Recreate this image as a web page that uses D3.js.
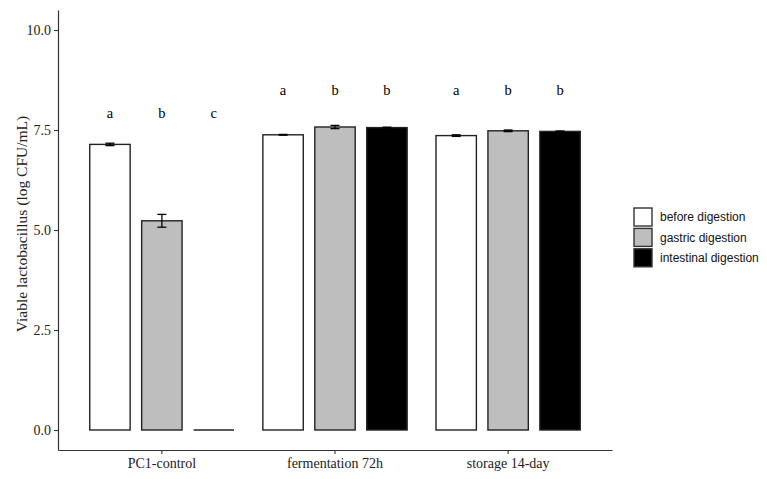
<!DOCTYPE html>
<html>
<head>
<meta charset="utf-8">
<script src="https://cdn.jsdelivr.net/npm/d3@7"></script>
<style>
  body { margin: 0; background: #fff; }
</style>
</head>
<body>
<div id="chart"></div>
<script>
// data
let groups = ["PC1-control", "fermentation 72h", "storage 14-day"]
let stages = ["before digestion", "gastric digestion", "intestinal digestion"]
let beforeMeans = [7.14, 7.38, 7.36]
let gastricMeans = [5.23, 7.575, 7.48]
let intestinalMeans = [0, 7.56, 7.465]
let beforeErr = [0.03, 0.01, 0.02]
let gastricErr = [0.16, 0.04, 0.02]
let intestinalErr = [0, 0.01, 0.01]
let letters = [["a", "b", "c"], ["a", "b", "b"], ["a", "b", "b"]]
let letterY = [7.88, 8.45, 8.45]
let yTicks = [0, 2.5, 5, 7.5, 10]
let fills = ["#ffffff", "#bebebe", "#000000"]

let svgWidth = 767
let svgHeight = 479
let margin = {left: 58, right: 155, top: 10, bottom: 29}
let width = svgWidth - margin.left - margin.right
let height = svgHeight - margin.top - margin.bottom

let svg = d3.select('#chart')
    .append('svg')
    .attr('width', svgWidth)
    .attr('height', svgHeight)

let g = svg.append('g')
    .attr('transform', `translate(${margin.left},${margin.top})`)

// build rows
let means = [beforeMeans, gastricMeans, intestinalMeans]
let errs = [beforeErr, gastricErr, intestinalErr]
let rows = []
groups.forEach((grp, i) => {
    stages.forEach((st, j) => {
        rows.push({group: grp, stage: st, j: j, mean: means[j][i], err: errs[j][i]})
    })
})

// scales
let x0 = d3.scaleBand()
    .domain(groups)
    .range([0, width])
    .paddingInner(0)
    .paddingOuter(0.1)
let step = x0.step()
let x1 = d3.scaleBand()
    .domain(stages)
    .range([-0.45 * step, 0.45 * step])
let barW = step * 0.7 / 3
let y = d3.scaleLinear()
    .domain([-0.5, 10.5])
    .range([height, 0])

let cx = d => x0(d.group) + x0.bandwidth() / 2 + x1(d.stage) + x1.bandwidth() / 2

// bars
g.selectAll('.bar')
    .data(rows)
    .enter()
    .append('rect')
    .attr('class', 'bar')
    .attr('x', d => cx(d) - barW / 2)
    .attr('width', barW)
    .attr('y', d => y(Math.max(d.mean, 0)))
    .attr('height', d => y(0) - y(Math.max(d.mean, 0)))
    .attr('fill', d => fills[d.j])
    .attr('stroke', '#222')
    .attr('stroke-width', 1.4)

// zero-height bar shows as a line
g.selectAll('.zero')
    .data(rows.filter(d => d.mean == 0))
    .enter()
    .append('line')
    .attr('x1', d => cx(d) - barW / 2)
    .attr('x2', d => cx(d) + barW / 2)
    .attr('y1', y(0))
    .attr('y2', y(0))
    .attr('stroke', '#222')
    .attr('stroke-width', 1.4)

// error bars
let capW = 9
let eb = g.selectAll('.eb')
    .data(rows.filter(d => d.err > 0))
    .enter()
    .append('g')
    .attr('class', 'eb')
    .attr('stroke', '#000')
    .attr('stroke-width', 1.3)
eb.append('line')
    .attr('x1', d => cx(d)).attr('x2', d => cx(d))
    .attr('y1', d => y(d.mean - d.err)).attr('y2', d => y(d.mean + d.err))
eb.append('line')
    .attr('x1', d => cx(d) - capW / 2).attr('x2', d => cx(d) + capW / 2)
    .attr('y1', d => y(d.mean + d.err)).attr('y2', d => y(d.mean + d.err))
eb.append('line')
    .attr('x1', d => cx(d) - capW / 2).attr('x2', d => cx(d) + capW / 2)
    .attr('y1', d => y(d.mean - d.err)).attr('y2', d => y(d.mean - d.err))

// significance letters
groups.forEach((grp, i) => {
    stages.forEach((st, j) => {
        g.append('text')
            .attr('x', cx({group: grp, stage: st}))
            .attr('y', y(letterY[i]))
            .attr('text-anchor', 'middle')
            .attr('dominant-baseline', 'middle')
            .attr('font-family', 'Liberation Serif, Times New Roman, serif')
            .attr('font-size', 14.5)
            .attr('fill', '#000')
            .text(letters[i][j])
    })
})

// axes
let yAxis = d3.axisLeft(y)
    .tickValues(yTicks)
    .tickFormat(d3.format('.1f'))
    .tickSize(4)
    .tickSizeOuter(0)
let xAxis = d3.axisBottom(x0)
    .tickSize(4)
    .tickSizeOuter(0)

let ya = g.append('g').call(yAxis)
let xa = g.append('g').attr('transform', `translate(0,${height})`).call(xAxis)

;[ya, xa].forEach(a => {
    a.select('.domain').attr('stroke', '#333').attr('stroke-width', 1.2)
    a.selectAll('.tick line').attr('stroke', '#333').attr('stroke-width', 1.1)
    a.selectAll('.tick text')
        .attr('font-family', 'Liberation Serif, Times New Roman, serif')
        .attr('font-size', 14)
        .attr('fill', '#222')
})
ya.selectAll('.tick text').attr('x', -7)
xa.selectAll('.tick text').attr('y', 8)

// y axis title
svg.append('text')
    .attr('transform', `translate(23,${margin.top + height / 2 - 6}) rotate(-90)`)
    .attr('text-anchor', 'middle')
    .attr('dominant-baseline', 'middle')
    .attr('font-family', 'Liberation Serif, Times New Roman, serif')
    .attr('font-size', 15.5)
    .attr('fill', '#222')
    .text('Viable lactobacillus (log CFU/mL)')

// legend
let legend = svg.append('g')
    .attr('transform', 'translate(634,208)')
stages.forEach((st, j) => {
    let row = legend.append('g').attr('transform', `translate(0,${j * 20.4})`)
    row.append('rect')
        .attr('width', 18)
        .attr('height', 18)
        .attr('fill', fills[j])
        .attr('stroke', '#333')
        .attr('stroke-width', 1.4)
    row.append('text')
        .attr('x', 26)
        .attr('y', 10)
        .attr('dominant-baseline', 'middle')
        .attr('font-family', 'Liberation Sans, Arial, sans-serif')
        .attr('font-size', 12)
        .attr('fill', '#111')
        .text(st)
})
</script>
</body>
</html>
